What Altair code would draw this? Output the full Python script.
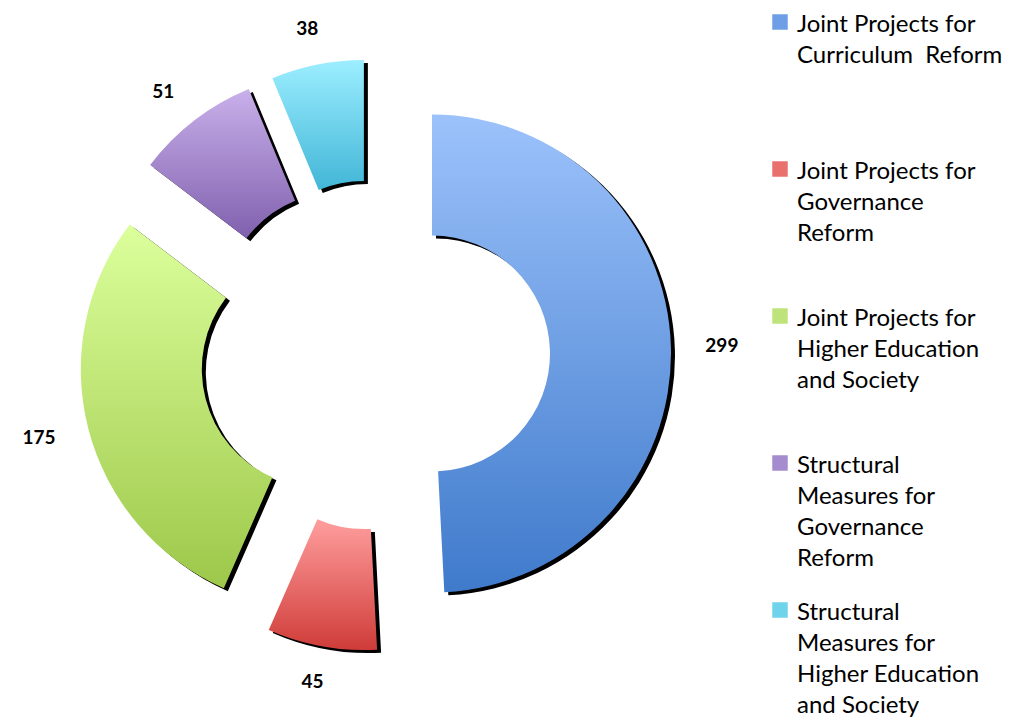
import altair as alt
import pandas as pd

categories = [
    "Joint Projects for\nCurriculum\u00a0\u00a0Reform",
    "Joint Projects for\nGovernance\nReform",
    "Joint Projects for\nHigher Education\nand Society",
    "Structural\nMeasures for\nGovernance\nReform",
    "Structural\nMeasures for\nHigher Education\nand Society",
]
values = [299, 45, 175, 51, 38]
top_colors = ["#9CC2FB", "#FF9E9E", "#DCFF9C", "#C9B0EA", "#9CEEFF"]
bottom_colors = ["#3F7ACB", "#CF3C38", "#9DC84A", "#8060AE", "#42B6D7"]
legend_colors = ["#6E9FE6", "#E8706D", "#BEE37A", "#A58CCF", "#6FD3EC"]

df = pd.DataFrame({"category": categories, "value": values, "order": list(range(len(values)))})

CX, CY = 367, 347
EXPLODE = 57
R_OUT, R_IN = 239, 118
LABEL_RX, LABEL_RY = 347, 332
FONT = "Lato"
LEG_X, LEG_Y, LEG_STEP = 772, 14, 147

base = (
    alt.Chart(df)
    .transform_window(cum="sum(value)", sort=[alt.SortField("order")], frame=[None, 0])
    .transform_joinaggregate(total="sum(value)")
    .transform_calculate(a1="2*PI*datum.cum/datum.total")
    .transform_calculate(a0="2*PI*(datum.cum-datum.value)/datum.total")
    .transform_calculate(mid="(datum.a0+datum.a1)/2")
    .transform_calculate(ex=f"{CX}+{EXPLODE}*sin(datum.mid)")
    .transform_calculate(ey=f"{CY}-{EXPLODE}*cos(datum.mid)")
    .transform_calculate(lx=f"{CX}+{LABEL_RX}*sin(datum.mid)")
    .transform_calculate(ly=f"{CY}-{LABEL_RY}*cos(datum.mid)")
    .transform_calculate(legy=f"{LEG_Y}+{LEG_STEP}*datum.order")
)

arc_enc = dict(
    x=alt.X("ex:Q", scale=None, axis=None),
    y=alt.Y("ey:Q", scale=None, axis=None),
    theta=alt.Theta("a0:Q", scale=None),
    theta2=alt.Theta2("a1:Q"),
)

color_enc = alt.Color(
    "category:N", scale=alt.Scale(domain=categories, range=legend_colors), legend=None
)

shadow = base.mark_arc(color="black", radius=R_OUT, radius2=R_IN, xOffset=4, yOffset=3).encode(**arc_enc)

grad_layers = []
for i in range(len(values)):
    g = alt.Gradient(
        gradient="linear",
        stops=[
            alt.GradientStop(color=top_colors[i], offset=0),
            alt.GradientStop(color=bottom_colors[i], offset=1),
        ],
        x1=0, x2=0, y1=0, y2=1,
    )
    grad_layers.append(
        base.transform_filter(f"datum.order == {i}")
        .mark_arc(color=g, radius=R_OUT, radius2=R_IN)
        .encode(**arc_enc)
    )

labels = base.mark_text(
    font=FONT, fontWeight="bold", fontSize=19, color="black", baseline="middle", align="center"
).encode(
    x=alt.X("lx:Q", scale=None, axis=None),
    y=alt.Y("ly:Q", scale=None, axis=None),
    text=alt.Text("value:Q"),
)

legend_symbols = base.mark_square(size=240, opacity=1).encode(
    x=alt.value(LEG_X - 8 + 8),
    y=alt.Y("legy:Q", scale=None, axis=None),
    color=color_enc,
)

legend_text = base.mark_text(
    font=FONT, fontSize=24, color="black", align="left", baseline="top",
    lineBreak="\n", lineHeight=31, dy=-9,
).encode(
    x=alt.value(LEG_X - 8 + 25),
    y=alt.Y("legy:Q", scale=None, axis=None),
    text=alt.Text("category:N"),
)

chart = alt.layer(shadow, *grad_layers, labels, legend_symbols, legend_text).properties(
    width=1007,
    height=712,
    padding=0,
    autosize=alt.AutoSizeParams(type="none"),
).configure_view(stroke=None)

chart.save("out.html", embed_options={"renderer": "svg", "actions": False})
